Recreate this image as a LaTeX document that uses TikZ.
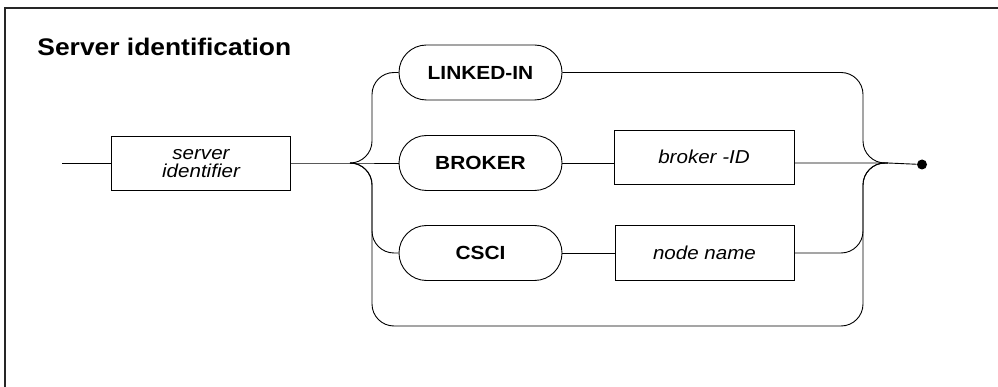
\documentclass[tikz,border=0pt]{standalone}
\usepackage{fontspec}
\setmainfont{Liberation Sans}[FakeStretch=1.1]
\usetikzlibrary{shapes.misc}
\begin{document}
\begin{tikzpicture}[x=1pt,y=-1pt,
  line width=0.9pt,
  term/.style={draw, rounded rectangle, minimum width=163pt, minimum height=55pt,
    inner sep=0pt, font=\fontsize{19}{22}\selectfont\bfseries},
  var/.style={draw, rectangle, minimum width=180pt, minimum height=54pt,
    inner sep=0pt, align=center, font=\fontsize{18.7}{18}\selectfont\itshape},
  rail/.style={rounded corners=22pt},
  frame/.style={line width=1.2pt, black!85},
]
\useasboundingbox (0,0) rectangle (998,387);

% partial frame around the syntax diagram
\draw[frame] (998,8) -- (5,8) -- (5,387);

% heading
\node[anchor=base west, inner sep=0pt, font=\fontsize{24}{28}\selectfont\bfseries]
  (title) at (37,56) {Server identification};

% syntax elements
\node[var, minimum width=179pt, minimum height=53.5pt] (srv) at (201,163.5) {server\\identifier};
\node[term] (linked) at (480.5,72.5) {LINKED-IN};
\node[term] (broker) at (480.5,163) {BROKER};
\node[term] (csci)   at (480.5,253) {CSCI};
\node[var] (bid) at (704,157) {broker -ID};
\node[var, minimum width=179pt, minimum height=55pt] (nn) at (704.5,252.5) {node name};

% rails and junctions
\coordinate (start) at (62,163);
\coordinate (jl)    at (350,163);
\coordinate (railL) at (372,163);
\coordinate (botL)  at (372,326);
\coordinate (botR)  at (863,326);
\coordinate (railR) at (863,163);
\coordinate (jr)    at (888,163);
\node[circle, fill, inner sep=0pt, minimum size=10pt] (stop) at (922,164.5) {};

% main line
\draw (start) -- (srv.west |- start);
\draw (srv.east |- jl) -- (jl) -- (broker.west);

% branches leaving the left junction
\draw[rail] (jl) -- (railL) |- (linked.west);
\draw[rail] (jl) -- (railL) |- (csci.west);
\draw[rail] (jl) -- (railL) -- (botL) -- (botR) -- (railR) -- (jr);

% branch bodies
\draw (broker.east) -- (bid.west |- broker.east);
\draw (csci.east) -- (nn.west |- csci.east);

% branches joining the right junction
\draw[rail] (linked.east) -| (railR) -- (jr);
\draw[rail] (nn.east |- csci.east) -| (railR) -- (jr);
\draw (bid.east |- jr) -- (jr) -- (stop);
\end{tikzpicture}
\end{document}
